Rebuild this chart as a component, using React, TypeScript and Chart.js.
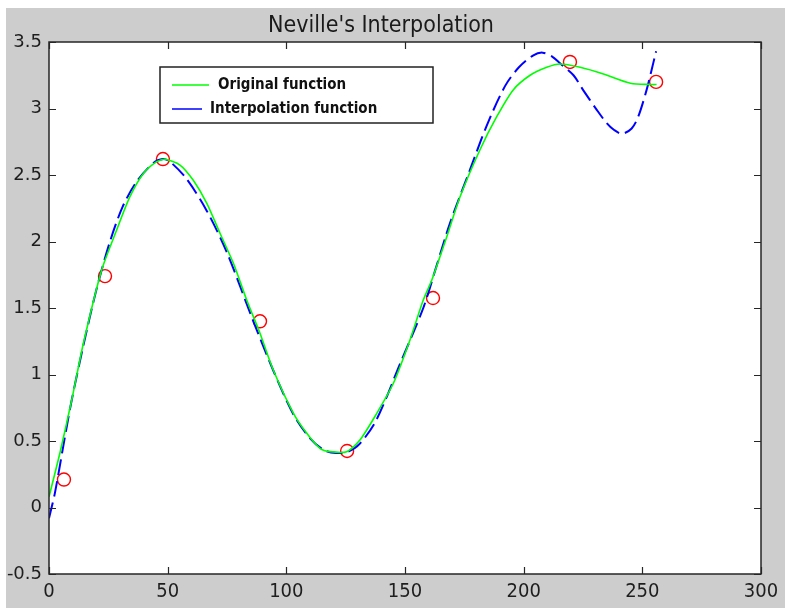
import { useEffect, useRef } from "react";
import { Chart, registerables } from "chart.js";

Chart.register(...registerables);

// ---- data ----
const origX = [0, 4.6, 9.6, 14.5, 22.2, 28.5, 34.1, 39.7, 45.4, 48.9, 55.2, 60.8, 66.5, 72.1, 77.7, 83.3, 88.9, 94.5, 103, 108.6, 114.2, 118.4, 125.4, 131, 138.1, 145.1, 152.1, 157.7, 161.3, 167.6, 173.2, 181.6, 188.7, 195.6, 202.7, 209.7, 215.3, 223.8, 233.6, 245, 254, 256];
const origY = [0.08, 0.41, 0.81, 1.235, 1.786, 2.086, 2.337, 2.51, 2.6, 2.618, 2.575, 2.46, 2.287, 2.06, 1.836, 1.56, 1.31, 1.034, 0.708, 0.558, 0.445, 0.42, 0.42, 0.507, 0.708, 0.934, 1.26, 1.56, 1.71, 2.036, 2.337, 2.69, 2.94, 3.14, 3.25, 3.31, 3.335, 3.31, 3.26, 3.19, 3.18, 3.18];

const interpX = [0, 2.5, 6.7, 9.6, 14.5, 20, 25.7, 31, 36.9, 44, 48, 51, 58, 66.5, 74.9, 86.1, 94.5, 103, 110, 116, 121, 126, 131, 138, 147.9, 157.7, 163, 169, 177.4, 184.4, 192.2, 198, 204.1, 208, 212, 215.3, 221, 225, 230.8, 235, 238, 241.4, 245.5, 248.3, 251.8, 253.9, 255.8];
const interpY = [-0.08, 0.11, 0.53, 0.81, 1.22, 1.64, 2.0, 2.26, 2.45, 2.59, 2.62, 2.6, 2.47, 2.23, 1.92, 1.4, 1.03, 0.7, 0.52, 0.43, 0.41, 0.42, 0.48, 0.66, 1.08, 1.5, 1.8, 2.14, 2.54, 2.87, 3.17, 3.31, 3.4, 3.42, 3.39, 3.34, 3.25, 3.14, 2.99, 2.89, 2.84, 2.81, 2.85, 2.94, 3.14, 3.29, 3.43];

const sampleX = [6.3, 23.6, 48, 88.9, 125.6, 161.8, 219.5, 255.8];
const sampleY = [0.21, 1.74, 2.62, 1.4, 0.425, 1.575, 3.35, 3.2];

const xTickValues = [0, 50, 100, 150, 200, 250, 300];
const yTickValues = [-0.5, 0, 0.5, 1, 1.5, 2, 2.5, 3, 3.5];

const titleText = "Neville's Interpolation";
const legendLabels = ["Original function", "Interpolation function"];

const zip = (xs: number[], ys: number[]) => xs.map((x, i) => ({ x, y: ys[i] }));

const decorPlugin = {
  id: "decor",
  beforeDraw(chart: any) {
    const { ctx, chartArea: a, width, height } = chart;
    ctx.save();
    ctx.fillStyle = "#ffffff";
    ctx.fillRect(0, 0, width, height);
    ctx.fillStyle = "#cdcdcd";
    ctx.fillRect(6, 8, width - 6, height - 8);
    ctx.fillStyle = "#ffffff";
    ctx.fillRect(a.left, a.top, a.right - a.left, a.bottom - a.top);
    ctx.restore();
  },
  afterDatasetsDraw(chart: any) {
    const { ctx, chartArea: a } = chart;
    const xs = chart.scales.x;
    const ys = chart.scales.y;
    ctx.save();
    // frame
    ctx.strokeStyle = "#262626";
    ctx.lineWidth = 1.5;
    ctx.strokeRect(a.left, a.top, a.right - a.left, a.bottom - a.top);
    // inward ticks
    const tl = 7;
    ctx.lineWidth = 1.2;
    ctx.beginPath();
    xs.ticks.forEach((t: any) => {
      const px = Math.round(xs.getPixelForValue(t.value)) + 0.5;
      ctx.moveTo(px, a.bottom);
      ctx.lineTo(px, a.bottom - tl);
      ctx.moveTo(px, a.top);
      ctx.lineTo(px, a.top + tl);
    });
    ys.ticks.forEach((t: any) => {
      const py = Math.round(ys.getPixelForValue(t.value)) + 0.5;
      ctx.moveTo(a.left, py);
      ctx.lineTo(a.left + tl, py);
      ctx.moveTo(a.right, py);
      ctx.lineTo(a.right - tl, py);
    });
    ctx.stroke();

    // legend
    const bx = 160, by = 67, bw = 273, bh = 56;
    ctx.fillStyle = "#ffffff";
    ctx.fillRect(bx, by, bw, bh);
    ctx.strokeStyle = "#222222";
    ctx.lineWidth = 1.5;
    ctx.strokeRect(bx, by, bw, bh);
    ctx.lineWidth = 1.5;
    ctx.strokeStyle = "#00ff00";
    ctx.beginPath();
    ctx.moveTo(172, 85);
    ctx.lineTo(209, 85);
    ctx.stroke();
    ctx.strokeStyle = "#0000ff";
    ctx.beginPath();
    ctx.moveTo(172, 109);
    ctx.lineTo(202, 109);
    ctx.stroke();
    ctx.fillStyle = "#111111";
    ctx.font = 'bold 15px "DejaVu Sans Condensed", "DejaVu Sans"';
    ctx.textBaseline = "middle";
    ctx.textAlign = "left";
    ctx.fillText(legendLabels[0], 218, 85);
    ctx.fillText(legendLabels[1], 210, 109);

    // title
    ctx.font = '23px "DejaVu Sans Condensed", "DejaVu Sans"';
    ctx.textAlign = "center";
    ctx.fillStyle = "#1a1a1a";
    ctx.fillText(titleText, 381, 26);
    ctx.restore();
  },
};

export default function App() {
  const ref = useRef<HTMLCanvasElement | null>(null);

  useEffect(() => {
    document.body.style.margin = "0";
    const canvas = ref.current;
    if (!canvas) return;
    const chart = new Chart(canvas, {
      type: "line",
      data: {
        datasets: [
          {
            label: legendLabels[0],
            data: zip(origX, origY),
            borderColor: "#00ff00",
            borderWidth: 1.6,
            pointRadius: 0,
            tension: 0.25,
            fill: false,
          },
          {
            label: legendLabels[1],
            data: zip(interpX, interpY),
            borderColor: "#0000ff",
            borderWidth: 2,
            borderDash: [16, 6],
            pointRadius: 0,
            tension: 0.3,
            fill: false,
          },
          {
            label: "samples",
            data: zip(sampleX, sampleY),
            showLine: false,
            pointStyle: "circle",
            pointRadius: 6.5,
            pointBorderColor: "#ff0000",
            pointBackgroundColor: "rgba(0,0,0,0)",
            pointBorderWidth: 1.4,
            borderColor: "#ff0000",
            backgroundColor: "rgba(0,0,0,0)",
          },
        ],
      },
      options: {
        animation: false,
        responsive: false,
        devicePixelRatio: 1,
        layout: { padding: { left: 0, top: 42, right: 24, bottom: 0 } },
        plugins: {
          legend: { display: false },
          title: { display: false },
          tooltip: { enabled: false },
        },
        scales: {
          x: {
            type: "linear",
            min: 0,
            max: 300,
            afterBuildTicks: (s: any) => {
              s.ticks = xTickValues.map((v) => ({ value: v }));
            },
            ticks: {
              stepSize: 50,
              padding: 6,
              color: "#1e1e1e",
              font: { family: '"DejaVu Sans Condensed", "DejaVu Sans"', size: 20 },
              maxRotation: 0,
              autoSkip: false,
              callback: (v: any) => String(v),
            },
            grid: { display: false, drawTicks: false },
            border: { display: false },
            afterFit: (s: any) => {
              s.height = 34;
            },
          },
          y: {
            type: "linear",
            min: -0.5,
            max: 3.5,
            afterBuildTicks: (s: any) => {
              s.ticks = yTickValues.map((v) => ({ value: v }));
            },
            ticks: {
              stepSize: 0.5,
              padding: 7,
              color: "#1e1e1e",
              font: { family: '"DejaVu Sans"', size: 18 },
              autoSkip: false,
              callback: (v: any) => String(v),
            },
            grid: { display: false, drawTicks: false },
            border: { display: false },
            afterFit: (s: any) => {
              s.width = 49;
            },
          },
        },
      },
      plugins: [decorPlugin],
    });
    return () => chart.destroy();
  }, []);

  return (
    <div style={{ position: "absolute", left: 0, top: 0, width: 785, height: 608 }}>
      <canvas ref={ref} width={785} height={608} style={{ width: 785, height: 608, display: "block" }} />
    </div>
  );
}
